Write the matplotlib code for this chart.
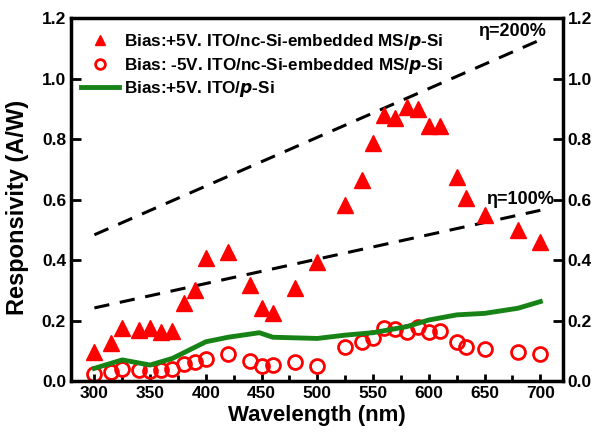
import matplotlib
matplotlib.use('Agg')
import matplotlib.pyplot as plt
from matplotlib.ticker import MultipleLocator

plt.rcParams['font.family'] = ['Liberation Sans', 'DejaVu Sans']
plt.rcParams['font.weight'] = 'bold'

# +5V, ITO/nc-Si-embedded MS/p-Si
wl_pos = [300, 315, 325, 340, 350, 360, 370, 380, 390, 400, 420, 440, 450, 460, 480,
          500, 525, 540, 550, 560, 570, 580, 590, 600, 610, 625, 633, 650, 680, 700]
resp_pos = [0.095, 0.125, 0.174, 0.169, 0.174, 0.163, 0.167, 0.259, 0.301, 0.406,
            0.428, 0.318, 0.241, 0.224, 0.307, 0.395, 0.583, 0.666, 0.789, 0.881,
            0.870, 0.906, 0.900, 0.844, 0.844, 0.676, 0.605, 0.550, 0.500, 0.461]

# -5V, ITO/nc-Si-embedded MS/p-Si
wl_neg = wl_pos
resp_neg = [0.023, 0.029, 0.040, 0.036, 0.034, 0.036, 0.040, 0.056, 0.064, 0.073,
            0.089, 0.066, 0.051, 0.053, 0.064, 0.051, 0.114, 0.128, 0.141, 0.174,
            0.171, 0.163, 0.180, 0.163, 0.167, 0.130, 0.114, 0.106, 0.097, 0.089]

# +5V, ITO/p-Si reference
wl_ref = [300, 325, 350, 370, 400, 420, 448, 460, 500, 525, 550, 580, 600, 625, 650, 680, 700]
resp_ref = [0.042, 0.070, 0.053, 0.075, 0.130, 0.145, 0.160, 0.145, 0.141, 0.152,
            0.160, 0.180, 0.202, 0.219, 0.224, 0.241, 0.263]

# quantum efficiency guide lines
eta_wl = [300, 700]
eta100 = [0.242, 0.565]
eta200 = [0.484, 1.129]

fig = plt.figure(figsize=(6.04, 4.38), dpi=100)
ax = fig.add_axes([0.1175, 0.130, 0.814, 0.828])

ax.plot(eta_wl, eta100, '--', color='black', lw=2.2, dashes=(5, 3.5))
ax.plot(eta_wl, eta200, '--', color='black', lw=2.2, dashes=(5, 3.5))

ax.plot(wl_pos, resp_pos, '^', color='red', ms=11, mec='red', ls='none',
        label='Bias:+5V. ITO/nc-Si-embedded MS/$\\boldsymbol{p}$-Si')
ax.plot(wl_neg, resp_neg, 'o', color='red', ms=10, mfc='none', mew=2, ls='none',
        label='Bias: -5V. ITO/nc-Si-embedded MS/$\\boldsymbol{p}$-Si')
ax.plot(wl_ref, resp_ref, '-', color='#178317', lw=3.5,
        label='Bias:+5V. ITO/$\\boldsymbol{p}$-Si')

ax.text(705, 1.157, '\u03b7=200%', ha='right', va='center', fontsize=13)
ax.text(712, 0.60, '\u03b7=100%', ha='right', va='center', fontsize=13)

ax.set_xlim(279, 720)
ax.set_ylim(0, 1.2)
ax.xaxis.set_major_locator(MultipleLocator(50))
ax.xaxis.set_minor_locator(MultipleLocator(25))
ax.yaxis.set_major_locator(MultipleLocator(0.2))
ax.yaxis.set_major_formatter(plt.FormatStrFormatter('%.1f'))

ax.tick_params(axis='both', which='major', direction='in', length=5, width=2,
               labelsize=12.5, right=True, labelright=True, top=False)
ax.tick_params(axis='x', which='minor', direction='in', length=4, width=2, top=False)
ax.tick_params(axis='y', which='major', length=7)
for lab in ax.get_xticklabels() + ax.get_yticklabels():
    lab.set_fontweight('bold')
for sp in ax.spines.values():
    sp.set_linewidth(2.5)

ax.set_xlabel('Wavelength (nm)', fontsize=16, fontweight='bold', labelpad=3)
ax.set_ylabel('Responsivity (A/W)', fontsize=17, fontweight='bold', labelpad=2)
ax.yaxis.set_label_coords(-0.085, 0.48)

leg = ax.legend(loc='upper left', frameon=False, fontsize=12.3, handlelength=2.2,
                handletextpad=0.3, labelspacing=0.2, borderaxespad=0.2,
                markerscale=0.7, bbox_to_anchor=(0.0, 0.99))
for t in leg.get_texts():
    t.set_fontweight('bold')

plt.savefig('out.png', dpi=100)
